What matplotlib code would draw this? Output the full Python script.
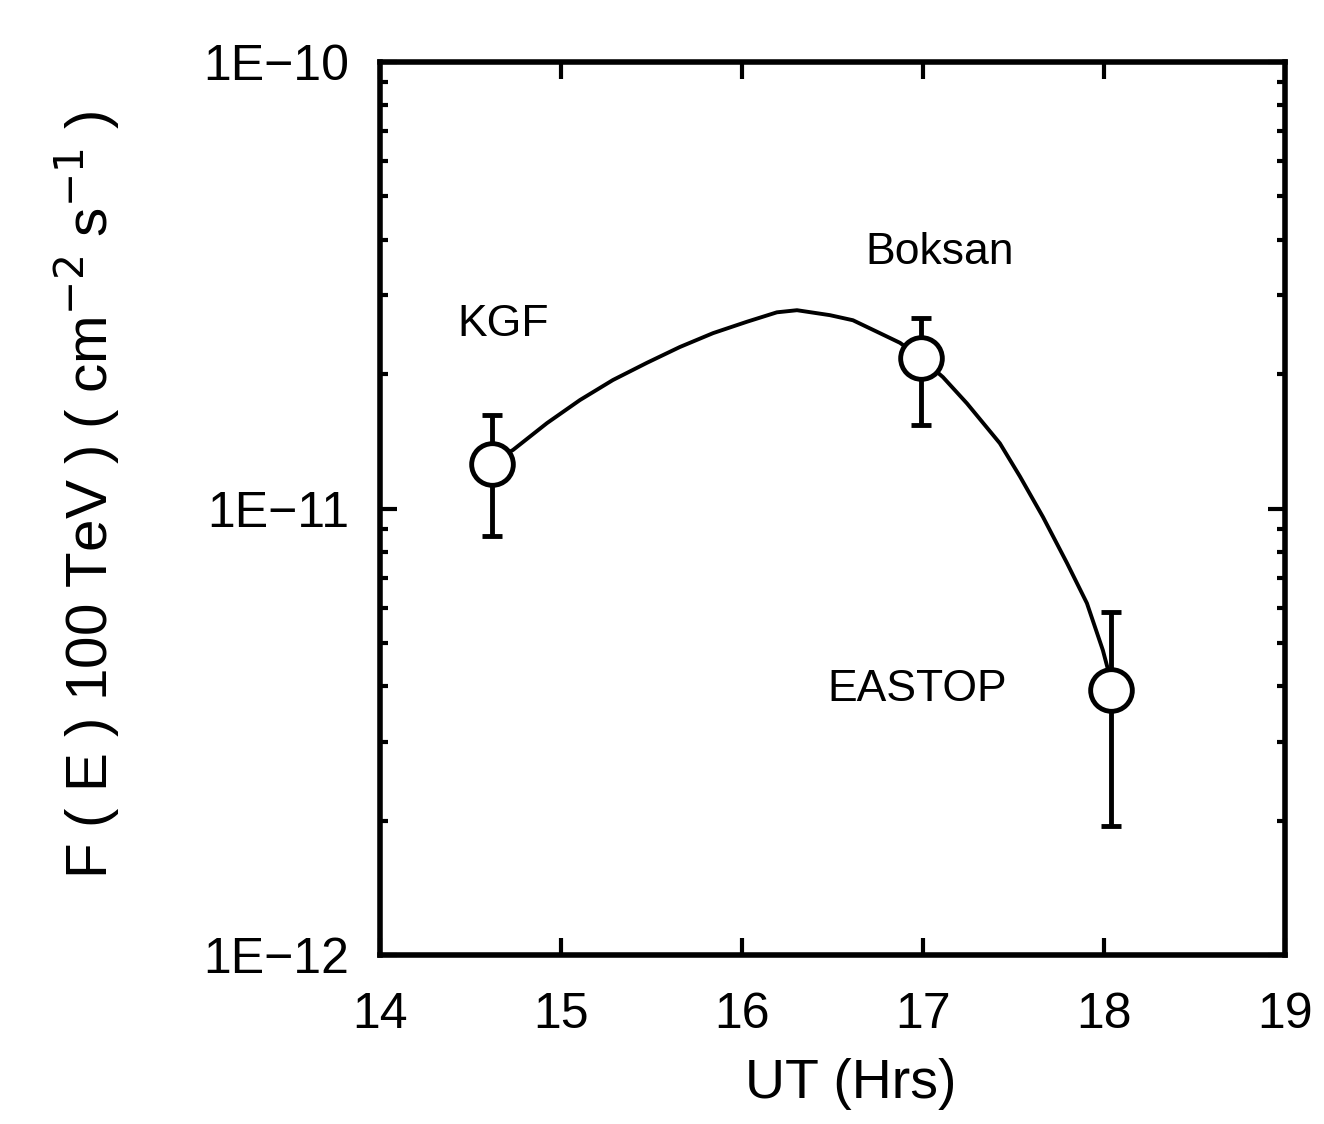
import numpy as np
import matplotlib
matplotlib.use("Agg")
import matplotlib.pyplot as plt
from matplotlib.ticker import FixedLocator, FixedFormatter, NullFormatter

plt.rcParams['font.family'] = ['Liberation Sans', 'DejaVu Sans']

# measured points
sites = ["KGF", "Boksan", "EASTOP"]
ut = [14.62, 16.99, 18.04]
flux = [1.26e-11, 2.17e-11, 3.93e-12]
err_hi = [1.62e-11, 2.67e-11, 5.86e-12]
err_lo = [8.7e-12, 1.54e-11, 1.95e-12]

# hand drawn curve through the points
curve_ut = [14.66, 14.735, 14.923, 15.105, 15.287, 15.475, 15.657, 15.84, 16.028,
            16.193, 16.304, 16.486, 16.613, 16.762, 16.873, 16.99, 17.11, 17.243,
            17.425, 17.536, 17.663, 17.796, 17.906, 17.994, 18.04]
curve_flux = [1.3e-11, 1.353e-11, 1.554e-11, 1.75e-11, 1.94e-11, 2.12e-11, 2.30e-11,
              2.47e-11, 2.62e-11, 2.75e-11, 2.78e-11, 2.71e-11, 2.64e-11, 2.47e-11,
              2.35e-11, 2.17e-11, 1.97e-11, 1.72e-11, 1.40e-11, 1.18e-11, 9.58e-12,
              7.55e-12, 6.14e-12, 4.82e-12, 4.1e-12]

# label positions
lab_x = [14.68, 17.09, 16.97]
lab_y = [2.58e-11, 3.75e-11, 3.93e-12]

xticks = [14, 15, 16, 17, 18, 19]
yticks = [1e-12, 1e-11, 1e-10]
ylabels = ["1E\u221212", "1E\u221211", "1E\u221210"]

fig = plt.figure(figsize=(13.24, 11.24), dpi=100)
ax = fig.add_axes([0.287, 0.150, 0.6835, 0.795])

ax.plot(curve_ut, curve_flux, color='black', lw=2.8)

f = np.array(flux)
yerr = [f - np.array(err_lo), np.array(err_hi) - f]
ax.errorbar(ut, flux, yerr=yerr, fmt='none', ecolor='black', elinewidth=3.5,
            capsize=7, capthick=3.5, zorder=2)
ax.plot(ut, flux, 'o', ms=30, mfc='white', mec='black', mew=3.5, zorder=3)

for s, x, y in zip(sites, lab_x, lab_y):
    ax.text(x, y, s, fontsize=32, ha='center', va='center')

ax.set_yscale('log')
ax.set_xlim(14, 19)
ax.set_ylim(1e-12, 1e-10)
ax.xaxis.set_major_locator(FixedLocator(xticks))
ax.set_xticklabels([str(t) for t in xticks])
ax.yaxis.set_major_locator(FixedLocator(yticks))
ax.yaxis.set_major_formatter(FixedFormatter(ylabels))
ax.yaxis.set_minor_formatter(NullFormatter())

ax.tick_params(which='both', direction='in', top=True, right=True, width=3)
ax.tick_params(which='major', length=12, labelsize=36)
ax.tick_params(axis='x', which='major', pad=26)
ax.tick_params(axis='y', which='major', pad=22)
ax.tick_params(which='minor', length=6)
for sp in ax.spines.values():
    sp.set_linewidth(4)

ax.set_xlabel("UT (Hrs)", fontsize=40)
ax.xaxis.set_label_coords(0.52, -0.115)
ax.set_ylabel("F ( E ) 100 TeV ) ( cm$^{-2}$ s$^{-1}$ )", fontsize=42)
ax.yaxis.set_label_coords(-0.285, 0.515)

fig.savefig("out.png", dpi=100)
